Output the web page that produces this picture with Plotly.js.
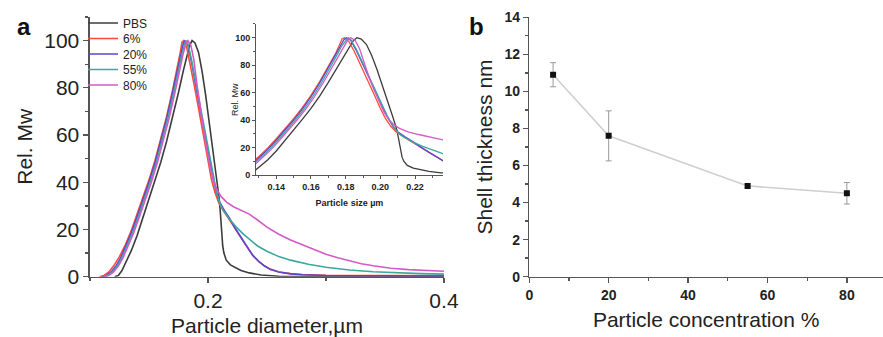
<!DOCTYPE html>
<html>
<head>
<meta charset="utf-8">
<script src="https://cdn.plot.ly/plotly-3.0.1.min.js"></script>
<style>html,body{margin:0;padding:0;background:#fff}#chart{width:883px;height:337px}</style>
</head>
<body>
<div id="chart"></div>
<script>
// ---- Panel a: size distributions (Rel. Mw vs particle diameter, µm) ----
const seriesNames = ['PBS', '6%', '20%', '55%', '80%'];
const seriesColors = ['#3c3c3c', '#ff4a3a', '#5a45d2', '#3aa89c', '#d45ac8'];

const pbsX = [0.121,0.124,0.127,0.130,0.135,0.140,0.145,0.150,0.155,0.160,0.165,0.170,0.175,0.179,0.182,0.1845,0.1865,0.189,0.192,0.195,0.198,0.201,0.204,0.207,0.2095,0.2105,0.2115,0.2125,0.2135,0.2155,0.219,0.223,0.228,0.235,0.245,0.260,0.280,0.400];
const pbsY = [0,0.5,2.5,5.5,11,17.5,25,33,40.5,48.5,57.5,67.5,78,87,93.5,98,100,99,95,87,77,66,54,43,33,27,19,13,10,7,5,3.8,2.6,1.6,0.7,0.2,0,0];

const p6X = [0.108,0.112,0.116,0.120,0.125,0.130,0.135,0.140,0.145,0.150,0.155,0.160,0.165,0.170,0.174,0.1765,0.178,0.1795,0.182,0.185,0.188,0.191,0.194,0.197,0.200,0.203,0.206,0.209,0.213,0.218,0.223,0.228,0.233,0.238,0.243,0.248,0.253,0.260,0.270,0.280,0.300,0.350,0.400];
const p6Y = [0,0.5,2,4.5,8.5,13.5,19.5,26.5,33.5,41,49,58,68,79,88,95,99.3,100,97,90,82,74,66,57,48.5,41,35.5,31.5,28,24.5,20.5,16.5,12.5,9,6.5,4.5,3.2,2,1.3,0.9,0.6,0.5,0.4];

const p20X = [0.110,0.114,0.118,0.122,0.126,0.130,0.135,0.140,0.145,0.150,0.155,0.160,0.165,0.170,0.174,0.177,0.179,0.1805,0.183,0.186,0.189,0.192,0.195,0.198,0.201,0.204,0.207,0.210,0.214,0.218,0.223,0.228,0.233,0.238,0.243,0.248,0.253,0.260,0.270,0.280,0.300,0.350,0.400];
const p20Y = [0,0.5,2,4.5,8,12.5,18.5,25.5,32.5,40,48,57,67,78,87,94,98.5,100,98,91,83,75,67,58.5,50,42.5,36,31.5,28,25,20.5,16.5,12.5,9,6.5,4.5,3,2,1.2,0.8,0.5,0.4,0.3];

const p55X = [0.111,0.115,0.119,0.123,0.127,0.131,0.136,0.141,0.146,0.151,0.156,0.161,0.166,0.171,0.175,0.178,0.1805,0.1815,0.183,0.186,0.189,0.192,0.195,0.198,0.201,0.204,0.207,0.210,0.213,0.218,0.224,0.230,0.236,0.242,0.250,0.260,0.270,0.285,0.300,0.320,0.340,0.360,0.380,0.400];
const p55Y = [0,0.5,2,4.5,8,12.5,18.5,25.5,32.5,40,48,57,67,78,87.5,94.5,99,100,98.5,92,84,76,68,59.5,51,43,36.5,31,28,24.5,21,18,15.5,13,10.8,8.5,7,5.3,4,2.8,2.1,1.6,1.3,1.1];

const p80X = [0.112,0.116,0.120,0.124,0.128,0.132,0.137,0.142,0.147,0.152,0.157,0.162,0.167,0.172,0.176,0.179,0.1815,0.183,0.1855,0.188,0.1905,0.193,0.196,0.199,0.202,0.205,0.208,0.211,0.216,0.222,0.228,0.235,0.242,0.250,0.260,0.270,0.280,0.290,0.300,0.310,0.320,0.330,0.340,0.355,0.370,0.385,0.400];
const p80Y = [0,0.5,2,4.5,8,12.5,18.5,25.5,32.5,40,48,57,67,78,87.5,94.5,99,100,98,92,82,73,63,54,46,40,36.5,34,31.5,29.5,28,26.5,24,21,18,15.5,13.5,11.5,9.5,8,6.7,5.5,4.6,3.6,3,2.6,2.3];

const seriesX = [pbsX, p6X, p20X, p55X, p80X];
const seriesY = [pbsY, p6Y, p20Y, p55Y, p80Y];

// ---- Panel b: shell thickness vs particle concentration ----
const concentration = [6, 20, 55, 80];
const shellThickness = [10.9, 7.6, 4.9, 4.5];
const shellError = [0.65, 1.35, 0.1, 0.58];

const FONT = 'Liberation Sans, Arial, sans-serif';
const traces = [];
seriesNames.forEach((name, i) => {
  traces.push({
    x: seriesX[i], y: seriesY[i], name: name, type: 'scatter', mode: 'lines',
    line: {color: seriesColors[i], width: 1.6}, xaxis: 'x', yaxis: 'y', showlegend: true
  });
});
seriesNames.forEach((name, i) => {
  traces.push({
    x: seriesX[i], y: seriesY[i], name: name, type: 'scatter', mode: 'lines',
    line: {color: seriesColors[i], width: 1.3}, xaxis: 'x2', yaxis: 'y2', showlegend: false
  });
});
traces.push({
  x: concentration, y: shellThickness, type: 'scatter', mode: 'lines+markers',
  line: {color: '#cfcfcf', width: 1.6},
  marker: {symbol: 'square', size: 6, color: '#111'},
  error_y: {type: 'data', array: shellError, visible: true, color: '#9a9a9a', thickness: 1, width: 3},
  xaxis: 'x3', yaxis: 'y3', showlegend: false
});

const axBase = {
  showgrid: false, zeroline: false, showline: true, linecolor: '#555', linewidth: 1.5,
  ticks: 'outside', tickcolor: '#555', ticklen: 5, tickwidth: 1.3, mirror: false,
  tickfont: {family: FONT, size: 21, color: '#222'}
};

const layout = {
  width: 883, height: 337,
  margin: {l: 0, r: 0, t: 0, b: 0},
  paper_bgcolor: '#fff', plot_bgcolor: 'rgba(0,0,0,0)',
  font: {family: FONT, color: '#222'},
  showlegend: true,
  legend: {x: 0.094, y: 0.975, xanchor: 'left', yanchor: 'top', bgcolor: 'rgba(0,0,0,0)',
           font: {family: FONT, size: 12, color: '#222'}, itemwidth: 30, tracegroupgap: 0},
  xaxis: Object.assign({}, axBase, {
    domain: [0.1019, 0.5028], range: [0.1, 0.4], tick0: 0, dtick: 0.2, tickformat: '.1f',
    minor: {dtick: 0.1, ticklen: 3, tickcolor: '#555', ticks: 'outside'},
    anchor: 'y',
    title: {text: 'Particle diameter,\u00b5m', font: {family: FONT, size: 21, color: '#222'}, standoff: 10}
  }),
  yaxis: Object.assign({}, axBase, {
    domain: [0.179, 0.9496], range: [0, 110], tick0: 0, dtick: 20,
    minor: {dtick: 10, ticklen: 3, tickcolor: '#555', ticks: 'outside'},
    anchor: 'x',
    title: {text: 'Rel. Mw', font: {family: FONT, size: 21, color: '#222'}, standoff: 6}
  }),
  xaxis2: Object.assign({}, axBase, {
    domain: [0.2899, 0.5017], range: [0.1283, 0.2361], tick0: 0.14, dtick: 0.02, tickformat: '.2f',
    linewidth: 1, ticklen: 3, tickwidth: 1,
    minor: {dtick: 0.01, ticklen: 2, tickcolor: '#555', ticks: 'outside'},
    tickfont: {family: FONT, size: 9, color: '#222', weight: 'bold'},
    anchor: 'y2',
    title: {text: 'Particle size \u00b5m', font: {family: FONT, size: 9, color: '#222', weight: 'bold'}, standoff: 8}
  }),
  yaxis2: Object.assign({}, axBase, {
    domain: [0.4807, 0.9288], range: [0, 110], tick0: 0, dtick: 20,
    linewidth: 1, ticklen: 3, tickwidth: 1,
    minor: {dtick: 10, ticklen: 2, tickcolor: '#555', ticks: 'outside'},
    tickfont: {family: FONT, size: 9, color: '#222', weight: 'bold'},
    anchor: 'x2'
  }),
  xaxis3: Object.assign({}, axBase, {
    domain: [0.5994, 1.0], range: [0, 89.1], tick0: 0, dtick: 20,
    minor: {dtick: 10, ticklen: 3, tickcolor: '#555', ticks: 'outside'},
    tickfont: {family: FONT, size: 14, color: '#222', weight: 'bold'},
    anchor: 'y3',
    title: {text: 'Particle concentration %', font: {family: FONT, size: 21, color: '#222'}, standoff: 10}
  }),
  yaxis3: Object.assign({}, axBase, {
    domain: [0.179, 0.9487], range: [0, 14], tick0: 0, dtick: 2,
    minor: {dtick: 1, ticklen: 3, tickcolor: '#555', ticks: 'outside'},
    tickfont: {family: FONT, size: 14, color: '#222', weight: 'bold'},
    anchor: 'x3',
    title: {text: 'Shell thickness nm', font: {family: FONT, size: 21, color: '#222'}, standoff: 6}
  }),
  annotations: [
    {text: 'a', x: 24 / 883, y: 1 - 27 / 337, xref: 'paper', yref: 'paper', showarrow: false,
     xanchor: 'center', yanchor: 'middle', font: {family: FONT, size: 24, color: '#111', weight: 'bold'}},
    {text: 'b', x: 476 / 883, y: 1 - 26 / 337, xref: 'paper', yref: 'paper', showarrow: false,
     xanchor: 'center', yanchor: 'middle', font: {family: FONT, size: 24, color: '#111', weight: 'bold'}},
    {text: 'Rel. Mw', x: 235 / 883, y: 1 - 99 / 337, xref: 'paper', yref: 'paper', showarrow: false,
     textangle: -90, xanchor: 'center', yanchor: 'middle', font: {family: FONT, size: 9, color: '#222'}}
  ]
};

Plotly.newPlot('chart', traces, layout, {displayModeBar: false, staticPlot: true}).then(gd => {
  // tighten legend row spacing to match the reference
  const items = gd.querySelectorAll('.legend .traces');
  if (!items.length) return;
  const re = /translate\(([-\d.]+),\s*([-\d.]+)\)/;
  const first = re.exec(items[0].getAttribute('transform') || '');
  const y0 = first ? parseFloat(first[2]) : 0;
  items.forEach((el, i) => {
    const m = re.exec(el.getAttribute('transform') || '');
    if (m) el.setAttribute('transform', 'translate(' + m[1] + ',' + (y0 + i * 15.5) + ')');
  });
});
</script>
</body>
</html>
